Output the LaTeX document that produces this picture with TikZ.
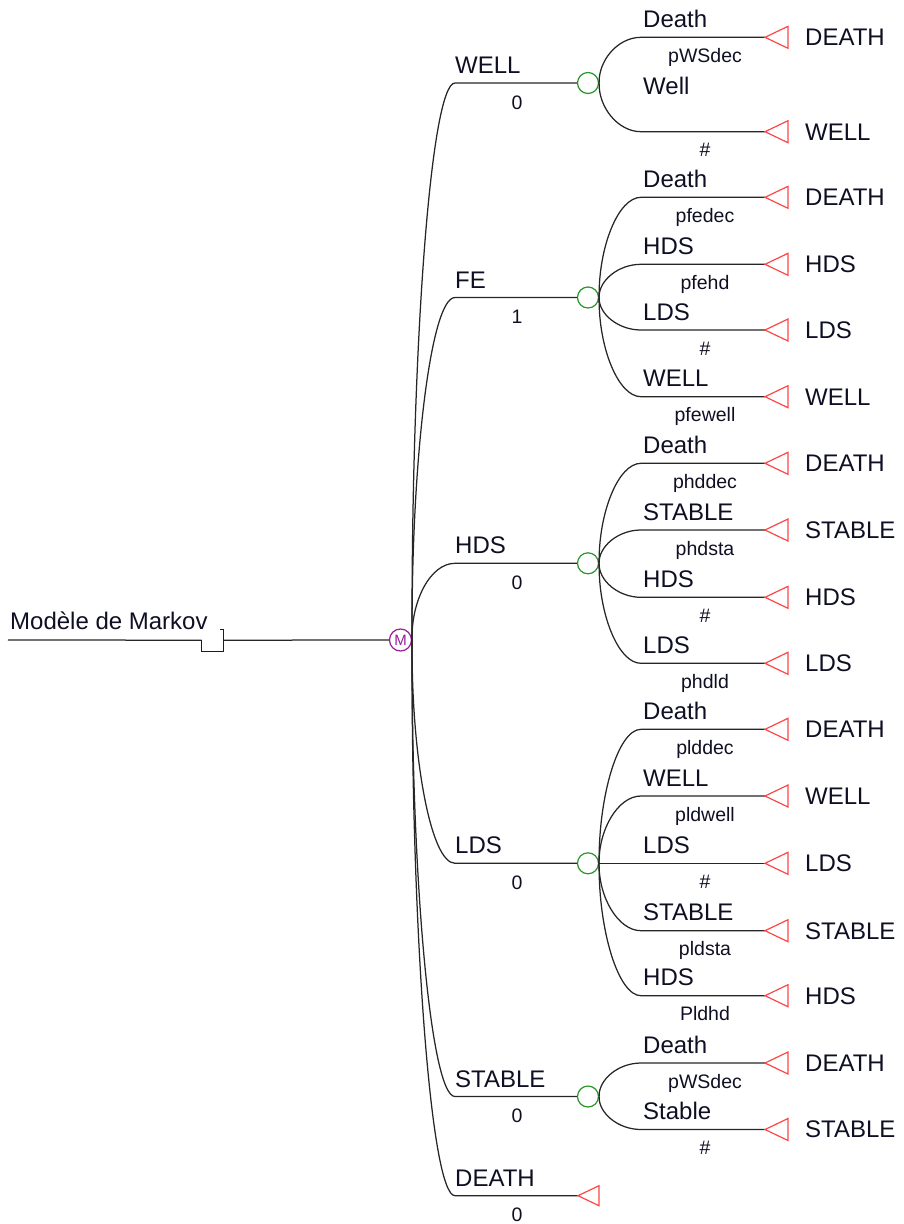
\documentclass[tikz,border=0pt]{standalone}
\usepackage{fontspec}
\setmainfont{Liberation Sans}
\usetikzlibrary{calc}

\definecolor{chancegreen}{RGB}{40,150,40}
\definecolor{termred}{RGB}{255,70,70}
\definecolor{markovpurple}{RGB}{150,30,150}
\definecolor{decblue}{RGB}{0,0,255}
\definecolor{ink}{RGB}{15,15,35}

\newcommand\bigtxt{\fontsize{24}{28}\selectfont}
\newcommand\smalltxt{\fontsize{19.5}{23}\selectfont}

\tikzset{
  edge/.style={line width=1.25pt, draw=black!85},
  chance/.style={circle, draw=chancegreen, line width=1.2pt, minimum size=21pt,
    inner sep=0pt, fill=white},
  markovnode/.style={circle, draw=markovpurple, line width=1.2pt, minimum size=22pt,
    inner sep=0pt, fill=white, text=markovpurple, font=\fontsize{15}{15}\selectfont},
  decision/.style={rectangle, minimum size=21.6pt, inner sep=0pt, fill=white},
  decedge/.style={draw=decblue, line width=1.2pt},
  termtri/.style={draw=termred, line width=1.2pt, line join=miter},
  lab/.style={inner sep=0pt, text=ink, font=\bigtxt},
  prob/.style={inner sep=0pt, text=ink, font=\smalltxt},
}

% branch of a chance node ending in a terminal state
% [#1 label lift] #2 chance node, #3 its y, #4 branch y, #5 label, #6 probability, #7 terminal state
\newcommand\chancebranch[7][10]{%
  \coordinate (#2-#7) at (765,#4);
  \draw[edge] (#2.east) .. controls (598.5,{(#3+#4)/2}) and (618,#4) .. (641,#4) -- (#2-#7);
  \draw[termtri] (#2-#7) -- ++(23,-11) -- ++(0,22) -- cycle;
  \node[lab, anchor=base west] at (643,#4-#1) {#5};
  \node[prob, anchor=base] at (705,#4+25) {#6};
  \node[lab, anchor=base west] at (805,#4+8.4) {#7};
}

% branch of the Markov node into a state
% #1 target node, #2 y, #3 state label, #4 value
\newcommand\statebranch[4]{%
  \draw[edge] (mk.east) .. controls (411,{(640+#2)/2}) and (430,#2) .. (455,#2) -- (#1);
  \node[lab, anchor=base west] at (455,#2-9.5) {#3};
  \node[prob, anchor=base] at (517,#2+26) {#4};
}

\begin{document}
\begin{tikzpicture}[x=1pt, y=-1pt]
\useasboundingbox (0,0) rectangle (903,1224);

% root, decision and Markov nodes
\coordinate (root) at (8,640);
\node[decision] (dec) at (212.5,640.2) {};
\node[markovnode] (mk) at (400.5,640) {M};
\draw[edge] (root) -- (dec);
\draw[edge] (dec) -- (mk);
\draw[decedge] (dec.west) -- (dec.south west) -- (dec.south east) -- (dec.north east) -- ++(-4,0);
\node[lab, anchor=base west] at (10,629) {Modèle de Markov};

% chance nodes of the states
\node[chance] (cwell)   at (588,83)     {};
\node[chance] (cfe)     at (588,297.5)  {};
\node[chance] (chds)    at (588,563.3)  {};
\node[chance] (clds)    at (588,863.3)  {};
\node[chance] (cstable) at (588,1096.5) {};
\coordinate (tdeath) at (578,1195.7);

\statebranch{cwell}{83}{WELL}{0}
\statebranch{cfe}{297.5}{FE}{1}
\statebranch{chds}{563.3}{HDS}{0}
\statebranch{clds}{863.3}{LDS}{0}
\statebranch{cstable}{1096.5}{STABLE}{0}
\statebranch{tdeath}{1195.7}{DEATH}{0}
\draw[termtri] (tdeath) -- ++(21,-10) -- ++(0,20) -- cycle;

% WELL
\chancebranch{cwell}{83}{37.3}{Death}{pWSdec}{DEATH}
\chancebranch[37.7]{cwell}{83}{131.7}{Well}{\#}{WELL}

% FE
\chancebranch{cfe}{297.5}{197.3}{Death}{pfedec}{DEATH}
\chancebranch{cfe}{297.5}{264.3}{HDS}{pfehd}{HDS}
\chancebranch{cfe}{297.5}{330}{LDS}{\#}{LDS}
\chancebranch{cfe}{297.5}{396.7}{WELL}{pfewell}{WELL}

% HDS
\chancebranch{chds}{563.3}{463.3}{Death}{phddec}{DEATH}
\chancebranch{chds}{563.3}{530}{STABLE}{phdsta}{STABLE}
\chancebranch{chds}{563.3}{597.3}{HDS}{\#}{HDS}
\chancebranch{chds}{563.3}{663.3}{LDS}{phdld}{LDS}

% LDS
\chancebranch{clds}{863.3}{729.3}{Death}{plddec}{DEATH}
\chancebranch{clds}{863.3}{796}{WELL}{pldwell}{WELL}
\chancebranch{clds}{863.3}{863.3}{LDS}{\#}{LDS}
\chancebranch{clds}{863.3}{930.7}{STABLE}{pldsta}{STABLE}
\chancebranch{clds}{863.3}{995.7}{HDS}{Pldhd}{HDS}

% STABLE
\chancebranch{cstable}{1096.5}{1063}{Death}{pWSdec}{DEATH}
\chancebranch{cstable}{1096.5}{1129.5}{Stable}{\#}{STABLE}
\end{tikzpicture}
\end{document}
